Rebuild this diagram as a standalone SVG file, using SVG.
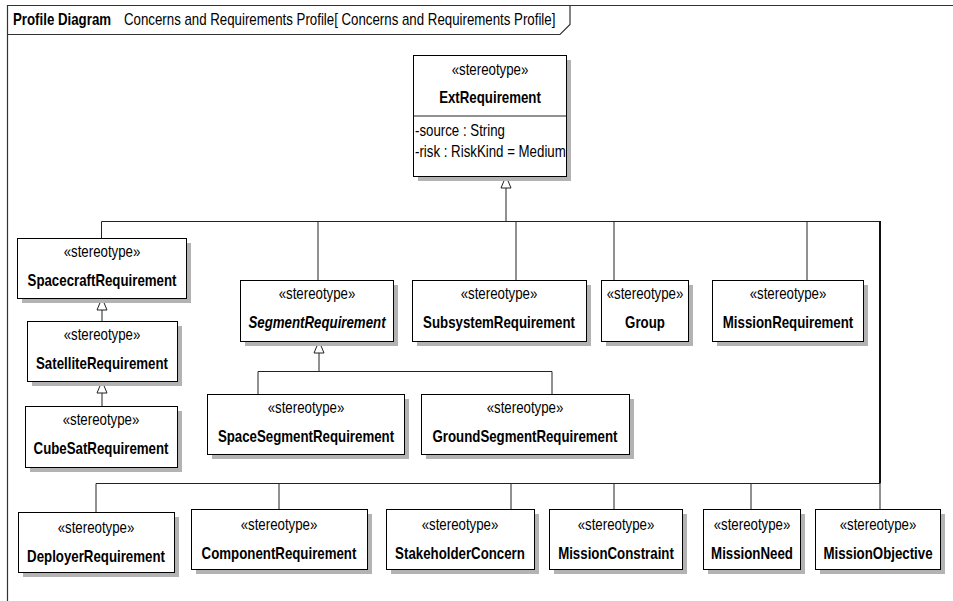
<svg xmlns="http://www.w3.org/2000/svg" width="953" height="601" viewBox="0 0 953 601">
<defs>
<style>
.bg{fill:#fff}
.sh{fill:#b3b3b3}
.bx{fill:#fff;stroke:#000;stroke-width:1}
text{font-family:"Liberation Sans",Arial,sans-serif;font-size:16px;fill:#000}
.st{text-anchor:middle}
.nm{font-weight:bold;text-anchor:middle}
.ln{fill:none;stroke:#222;stroke-width:1}
.fr{fill:none;stroke:#333;stroke-width:1.2}
</style>
<marker id="gen" markerUnits="userSpaceOnUse" markerWidth="14" markerHeight="12" viewBox="0 0 14 12" refX="13" refY="6" orient="auto">
<path d="M1,1 L13,6 L1,11 z" fill="#fff" stroke="#222" stroke-width="1"/>
</marker>
</defs>
<rect class="bg" x="0" y="0" width="953" height="601"/>
<g id="frame">
<path class="fr" d="M7.5,601 V5.5 H953"/>
<path class="fr" d="M7.5,34.5 H560 L570,24.5 V5.5"/>
<text transform="matrix(0.83 0 0 1 13 25)" font-weight="bold">Profile Diagram</text>
<text transform="matrix(0.83 0 0 1 124 25)">Concerns and Requirements Profile[ Concerns and Requirements Profile]</text>
</g>
<g id="connectors">
<path class="ln" d="M506,221.5 V176" marker-end="url(#gen)"/>
<path class="ln" d="M101.5,221.5 H880"/>
<path class="ln" d="M101.5,221.5 V238 M318,221.5 V280 M516,221.5 V280 M614,221.5 V280 M807,221.5 V280"/>
<path fill="none" stroke="#111" stroke-width="2" d="M880,221 V483.5"/>
<path class="ln" d="M880,483.5 V509"/>
<path class="ln" d="M96,483.5 H880 M96,483.5 V512 M279,483.5 V509 M511,483.5 V509 M614,483.5 V509 M751,483.5 V509"/>
<path class="ln" d="M102,321 V298" marker-end="url(#gen)"/>
<path class="ln" d="M102,406 V381" marker-end="url(#gen)"/>
<path class="ln" d="M319,371.5 V341" marker-end="url(#gen)"/>
<path class="ln" d="M258,394 V371.5 H552 V394"/>
</g>
<g id="ExtRequirement">
<rect class="sh" x="418" y="60" width="153" height="121"/>
<rect class="bx" x="413.5" y="55.5" width="153" height="121"/>
<line class="ln" x1="413.5" y1="116" x2="566.5" y2="116" stroke="#000"/>
<text class="st" transform="matrix(0.83 0 0 1 490 75)">«stereotype»</text>
<text class="nm" transform="matrix(0.83 0 0 1 490 103)">ExtRequirement</text>
<text transform="matrix(0.83 0 0 1 415 136)">-source : String</text>
<text transform="matrix(0.83 0 0 1 415 157)">-risk : RiskKind = Medium</text>
</g>
<g id="SpacecraftRequirement">
<rect class="sh" x="22" y="243" width="169" height="60"/>
<rect class="bx" x="17.5" y="238.5" width="169" height="60"/>
<text class="st" transform="matrix(0.83 0 0 1 102 257)">«stereotype»</text>
<text class="nm" transform="matrix(0.83 0 0 1 102 286)">SpacecraftRequirement</text>
</g>
<g id="SatelliteRequirement">
<rect class="sh" x="32" y="326" width="150" height="60"/>
<rect class="bx" x="27.5" y="321.5" width="150" height="60"/>
<text class="st" transform="matrix(0.83 0 0 1 102 340)">«stereotype»</text>
<text class="nm" transform="matrix(0.83 0 0 1 102 369)">SatelliteRequirement</text>
</g>
<g id="CubeSatRequirement">
<rect class="sh" x="30" y="411" width="152" height="61"/>
<rect class="bx" x="25.5" y="406.5" width="152" height="61"/>
<text class="st" transform="matrix(0.83 0 0 1 101 425)">«stereotype»</text>
<text class="nm" transform="matrix(0.83 0 0 1 101 454)">CubeSatRequirement</text>
</g>
<g id="SegmentRequirement">
<rect class="sh" x="245" y="285" width="153" height="61"/>
<rect class="bx" x="240.5" y="280.5" width="153" height="61"/>
<text class="st" transform="matrix(0.83 0 0 1 317 299)">«stereotype»</text>
<text class="nm" font-style="italic" transform="matrix(0.83 0 0 1 317 328)">SegmentRequirement</text>
</g>
<g id="SubsystemRequirement">
<rect class="sh" x="417" y="285" width="174" height="61"/>
<rect class="bx" x="412.5" y="280.5" width="174" height="61"/>
<text class="st" transform="matrix(0.83 0 0 1 499 299)">«stereotype»</text>
<text class="nm" transform="matrix(0.83 0 0 1 499 328)">SubsystemRequirement</text>
</g>
<g id="Group">
<rect class="sh" x="606" y="285" width="87" height="61"/>
<rect class="bx" x="601.5" y="280.5" width="87" height="61"/>
<text class="st" transform="matrix(0.83 0 0 1 645 299)">«stereotype»</text>
<text class="nm" transform="matrix(0.83 0 0 1 645 328)">Group</text>
</g>
<g id="MissionRequirement">
<rect class="sh" x="717" y="285" width="151" height="61"/>
<rect class="bx" x="712.5" y="280.5" width="151" height="61"/>
<text class="st" transform="matrix(0.83 0 0 1 788 299)">«stereotype»</text>
<text class="nm" transform="matrix(0.83 0 0 1 788 328)">MissionRequirement</text>
</g>
<g id="SpaceSegmentRequirement">
<rect class="sh" x="212" y="399" width="197" height="60"/>
<rect class="bx" x="207.5" y="394.5" width="197" height="60"/>
<text class="st" transform="matrix(0.83 0 0 1 306 413)">«stereotype»</text>
<text class="nm" transform="matrix(0.83 0 0 1 306 442)">SpaceSegmentRequirement</text>
</g>
<g id="GroundSegmentRequirement">
<rect class="sh" x="426" y="399" width="208" height="60"/>
<rect class="bx" x="421.5" y="394.5" width="208" height="60"/>
<text class="st" transform="matrix(0.83 0 0 1 525 413)">«stereotype»</text>
<text class="nm" transform="matrix(0.83 0 0 1 525 442)">GroundSegmentRequirement</text>
</g>
<g id="DeployerRequirement">
<rect class="sh" x="23" y="517" width="156" height="60"/>
<rect class="bx" x="18.5" y="512.5" width="156" height="60"/>
<text class="st" transform="matrix(0.83 0 0 1 96 533)">«stereotype»</text>
<text class="nm" transform="matrix(0.83 0 0 1 96 562)">DeployerRequirement</text>
</g>
<g id="ComponentRequirement">
<rect class="sh" x="196" y="514" width="176" height="60"/>
<rect class="bx" x="191.5" y="509.5" width="176" height="60"/>
<text class="st" transform="matrix(0.83 0 0 1 279 530)">«stereotype»</text>
<text class="nm" transform="matrix(0.83 0 0 1 279 559)">ComponentRequirement</text>
</g>
<g id="StakeholderConcern">
<rect class="sh" x="391" y="514" width="148" height="60"/>
<rect class="bx" x="386.5" y="509.5" width="148" height="60"/>
<text class="st" transform="matrix(0.83 0 0 1 460 530)">«stereotype»</text>
<text class="nm" transform="matrix(0.83 0 0 1 460 559)">StakeholderConcern</text>
</g>
<g id="MissionConstraint">
<rect class="sh" x="554" y="514" width="133" height="60"/>
<rect class="bx" x="549.5" y="509.5" width="133" height="60"/>
<text class="st" transform="matrix(0.83 0 0 1 616 530)">«stereotype»</text>
<text class="nm" transform="matrix(0.83 0 0 1 616 559)">MissionConstraint</text>
</g>
<g id="MissionNeed">
<rect class="sh" x="708" y="514" width="97" height="60"/>
<rect class="bx" x="703.5" y="509.5" width="97" height="60"/>
<text class="st" transform="matrix(0.83 0 0 1 752 530)">«stereotype»</text>
<text class="nm" transform="matrix(0.83 0 0 1 752 559)">MissionNeed</text>
</g>
<g id="MissionObjective">
<rect class="sh" x="820" y="514" width="125" height="60"/>
<rect class="bx" x="815.5" y="509.5" width="125" height="60"/>
<text class="st" transform="matrix(0.83 0 0 1 878 530)">«stereotype»</text>
<text class="nm" transform="matrix(0.83 0 0 1 878 559)">MissionObjective</text>
</g>
</svg>
